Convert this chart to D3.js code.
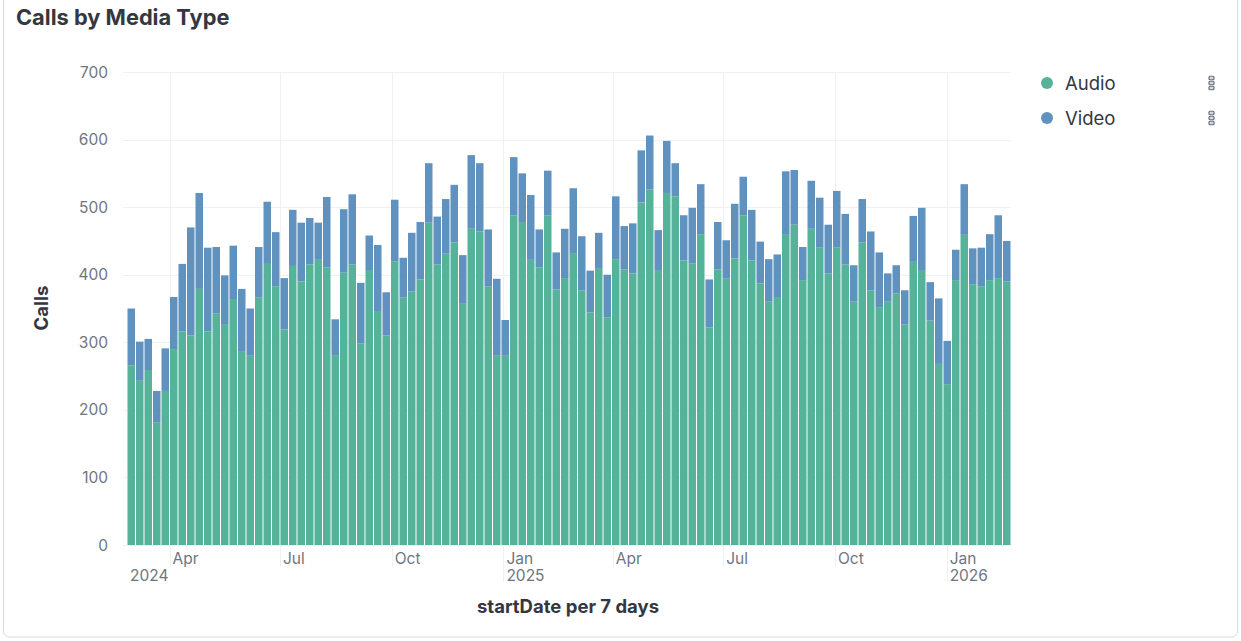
<!DOCTYPE html>
<html>
<head>
<meta charset="utf-8">
<script src="https://cdn.jsdelivr.net/npm/d3@7"></script>
<style>
  html, body { margin: 0; padding: 0; background: #fff; }
  svg { display: block; font-family: Inter, "Noto Sans", sans-serif; }
</style>
</head>
<body>
<svg id="chart" width="1241" height="641"></svg>
<script>
// ---- data ----
const firstWeek = "2024-02-26"; // Monday buckets, 7 days each
const audio = [266,243,259,181,228,290,316,310,379,316,343,327,364,287,280,366,416,383,319,413,
  390,415,422,411,280,403,415,298,407,345,310,420,366,375,393,477,415,431,448,358,
  468,464,383,280,280,488,478,422,411,488,378,395,432,377,344,410,337,423,408,402,
  507,526,407,521,516,421,417,460,322,408,394,424,488,421,387,360,367,459,474,392,
  468,440,402,440,415,360,448,377,352,360,372,326,419,407,332,268,238,392,459,386,
  383,392,395,390];
const video = [84,58,46,47,63,77,100,160,142,124,98,72,79,92,70,75,92,80,76,83,
  87,69,55,104,54,94,104,90,51,99,64,91,59,87,85,88,71,81,85,71,
  109,101,84,114,53,86,72,96,56,66,55,73,96,80,62,52,63,93,64,74,
  77,80,59,77,49,67,82,74,71,70,57,81,57,75,62,63,63,94,81,49,
  71,74,72,84,75,54,64,87,81,42,42,51,68,92,57,97,64,45,75,53,
  57,68,93,60];
const seriesNames = ["Audio", "Video"];
const yTicks = [0,100,200,300,400,500,600,700];
const xTickDates = ["2024-04-01","2024-07-01","2024-10-01","2025-01-01","2025-04-01","2025-07-01","2025-10-01","2026-01-01"];
const xTickLabels = ["Apr","Jul","Oct","Jan","Apr","Jul","Oct","Jan"];
const yearLabels = [["2024","2024-02-26"],["2025","2025-01-01"],["2026","2026-01-01"]];

// ---- setup ----
const svg = d3.select("#chart");
const parse = d3.utcParse("%Y-%m-%d");
const start = parse(firstWeek);
const dates = audio.map((_, i) => d3.utcDay.offset(start, i * 7));
const end = d3.utcDay.offset(start, audio.length * 7);

const x = d3.scaleUtc().domain([start, end]).range([127, 1011]);
const y = d3.scaleLinear().domain([0, 700]).range([545, 72]);

const colors = { Audio: "#54B399", Video: "#6092C0" };

// panel border
svg.append("rect").attr("x", 3.5).attr("y", -10).attr("width", 1234).attr("height", 647)
  .attr("rx", 6).attr("fill", "#fff").attr("stroke", "#d3dae6").attr("stroke-width", 1);

// title
svg.append("text").attr("x", 16).attr("y", 25).text("Calls by Media Type")
  .attr("font-size", 21.8).attr("font-weight", 700).attr("fill", "#343741");

// horizontal grid
svg.append("g").selectAll("line").data(yTicks).join("line")
  .attr("x1", 123).attr("x2", 1011)
  .attr("y1", d => Math.round(y(d)) + 0.5).attr("y2", d => Math.round(y(d)) + 0.5)
  .attr("stroke", "#eef0f3").attr("stroke-width", 1);

// vertical grid (quarter ticks)
const xt = xTickDates.map(parse);
svg.append("g").selectAll("line").data(xt).join("line")
  .attr("x1", d => Math.round(x(d)) + 0.5).attr("x2", d => Math.round(x(d)) + 0.5)
  .attr("y1", 72).attr("y2", (d, i) => xTickLabels[i] === "Jan" ? 582 : 567)
  .attr("stroke", "#eef0f3").attr("stroke-width", 1);

// stacked bars
const rows = dates.map((d, i) => ({ date: d, Audio: audio[i], Video: video[i] }));
const stacked = d3.stack().keys(seriesNames)(rows);
svg.append("g").selectAll("g").data(stacked).join("g")
  .attr("fill", s => colors[s.key])
  .selectAll("rect").data(s => s).join("rect")
  .attr("x", d => x(d.data.date) + 0.5)
  .attr("width", d => x(d3.utcDay.offset(d.data.date, 7)) - x(d.data.date) - 1)
  .attr("y", d => y(d[1]))
  .attr("height", d => y(d[0]) - y(d[1]));

// y axis labels
svg.append("g").selectAll("text").data(yTicks).join("text")
  .attr("x", 108).attr("y", d => y(d) + 5.5).attr("text-anchor", "end")
  .attr("font-size", 15.5).attr("fill", "#6f7580").text(d => d);

// x axis labels
svg.append("g").selectAll("text").data(xt).join("text")
  .attr("x", d => x(d) + 3).attr("y", 564)
  .attr("font-size", 15.5).attr("fill", "#6f7580").text((d, i) => xTickLabels[i]);
svg.append("g").selectAll("text").data(yearLabels).join("text")
  .attr("x", d => Math.max(128, x(parse(d[1])) + 3)).attr("y", 581)
  .attr("font-size", 15.5).attr("fill", "#6f7580").text(d => d[0]);

// axis titles
svg.append("text").attr("transform", "translate(48,308) rotate(-90)")
  .attr("text-anchor", "middle").attr("font-size", 18.5).attr("font-weight", 700)
  .attr("fill", "#343741").text("Calls");
svg.append("text").attr("x", 568).attr("y", 613).attr("text-anchor", "middle")
  .attr("font-size", 18.5).attr("font-weight", 700).attr("fill", "#343741")
  .text("startDate per 7 days");

// legend
const lg = svg.append("g").selectAll("g").data(seriesNames).join("g")
  .attr("transform", (d, i) => `translate(0,${83 + i * 35})`);
lg.append("circle").attr("cx", 1047).attr("cy", 0).attr("r", 6).attr("fill", d => colors[d]);
lg.append("text").attr("x", 1065).attr("y", 6.5).attr("font-size", 18.5)
  .attr("fill", "#343741").text(d => d);
lg.selectAll("rect.dot").data([-5, 0, 5]).join("rect").attr("class", "dot")
  .attr("x", 1209).attr("y", d => d - 1.75).attr("width", 5).attr("height", 3.5).attr("rx", 1)
  .attr("fill", "#d5d9e0").attr("stroke", "#69707d").attr("stroke-width", 1.2);
</script>
</body>
</html>
